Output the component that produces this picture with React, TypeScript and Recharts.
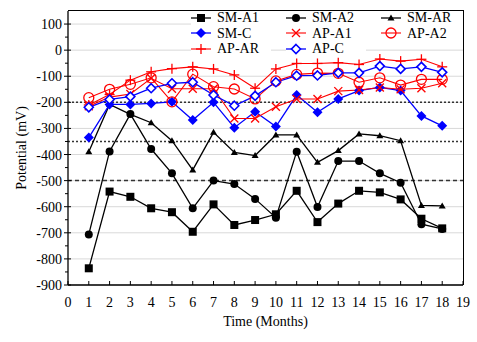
import React from "react";
import { LineChart, Line, XAxis, YAxis, CartesianGrid, ReferenceLine, Legend } from "recharts";

const months = [1, 2, 3, 4, 5, 6, 7, 8, 9, 10, 11, 12, 13, 14, 15, 16, 17, 18];
const smA1 = [-836, -542, -562, -606, -621, -696, -591, -670, -651, -629, -539, -659, -588, -539, -545, -572, -646, -683];
const smA2 = [-706, -388, -245, -379, -472, -606, -500, -513, -570, -642, -389, -601, -425, -425, -472, -508, -667, -685];
const smAR = [-389, -208, -246, -278, -347, -459, -315, -392, -404, -325, -325, -430, -385, -321, -328, -347, -595, -597];
const smC = [-335, -208, -208, -204, -198, -268, -200, -297, -236, -293, -172, -238, -187, -155, -143, -155, -252, -290];
const apA1 = [-215, -180, -168, -108, -148, -148, -148, -262, -262, -217, -187, -187, -157, -153, -143, -150, -146, -127];
const apA2 = [-182, -150, -131, -106, -198, -92, -140, -149, -187, -118, -93, -88, -89, -123, -106, -134, -112, -112];
const apAR = [-210, -170, -115, -83, -71, -64, -72, -95, -146, -72, -51, -51, -48, -55, -34, -42, -35, -64];
const apC = [-219, -189, -178, -146, -127, -123, -172, -213, -175, -123, -98, -97, -87, -87, -61, -72, -64, -85];

const xTicks = [0, 1, 2, 3, 4, 5, 6, 7, 8, 9, 10, 11, 12, 13, 14, 15, 16, 17, 18, 19];
const yMajor = [-900, -800, -700, -600, -500, -400, -300, -200, -100, 0, 100];
const yTicks = [-900, -850, -800, -750, -700, -650, -600, -550, -500, -450, -400, -350, -300, -250, -200, -150, -100, -50, 0, 50, 100];
const limits = [-200, -350, -500];
const xMax = 19;
const yMin = -900;
const yMax = 150;

const FONT = "'Liberation Serif', 'Times New Roman', serif";
const RED = "#ff0000";
const BLUE = "#0000ff";

type Shape = "square" | "circle" | "triangle" | "diamond" | "x" | "ring" | "plus" | "odiamond";

const series: { key: string; name: string; values: number[]; color: string; shape: Shape; width: number }[] = [
    { key: "smA1", name: "SM-A1", values: smA1, color: "#000", shape: "square", width: 1.3 },
    { key: "smA2", name: "SM-A2", values: smA2, color: "#000", shape: "circle", width: 1.3 },
    { key: "smAR", name: "SM-AR", values: smAR, color: "#000", shape: "triangle", width: 1.3 },
    { key: "smC", name: "SM-C", values: smC, color: BLUE, shape: "diamond", width: 1.3 },
    { key: "apA1", name: "AP-A1", values: apA1, color: RED, shape: "x", width: 1.1 },
    { key: "apA2", name: "AP-A2", values: apA2, color: RED, shape: "ring", width: 1.1 },
    { key: "apAR", name: "AP-AR", values: apAR, color: RED, shape: "plus", width: 1.1 },
    { key: "apC", name: "AP-C", values: apC, color: BLUE, shape: "odiamond", width: 1.3 },
];

const data = months.map((m, i) => {
    const row: Record<string, number> = { month: m };
    series.forEach(s => { row[s.key] = s.values[i]; });
    return row;
});

function Marker({ shape, cx, cy, color }: { shape: Shape; cx: number; cy: number; color: string }) {
    switch (shape) {
        case "square":
            return <rect x={cx - 4} y={cy - 4} width={8} height={8} fill={color} />;
        case "circle":
            return <circle cx={cx} cy={cy} r={4} fill={color} />;
        case "triangle":
            return <polygon points={`${cx},${cy - 3.5} ${cx - 3.5},${cy + 2.5} ${cx + 3.5},${cy + 2.5}`} fill={color} />;
        case "diamond":
            return <polygon points={`${cx},${cy - 5} ${cx + 5},${cy} ${cx},${cy + 5} ${cx - 5},${cy}`} fill={color} />;
        case "x":
            return (
                <g stroke={color} strokeWidth={1.3}>
                    <line x1={cx - 4} y1={cy - 4} x2={cx + 4} y2={cy + 4} />
                    <line x1={cx - 4} y1={cy + 4} x2={cx + 4} y2={cy - 4} />
                </g>
            );
        case "ring":
            return <circle cx={cx} cy={cy} r={5} fill="none" stroke={color} strokeWidth={1.3} />;
        case "plus":
            return (
                <g stroke={color} strokeWidth={1.3}>
                    <line x1={cx - 5} y1={cy} x2={cx + 5} y2={cy} />
                    <line x1={cx} y1={cy - 5} x2={cx} y2={cy + 5} />
                </g>
            );
        case "odiamond":
            return <polygon points={`${cx},${cy - 4.5} ${cx + 4.5},${cy} ${cx},${cy + 4.5} ${cx - 4.5},${cy}`} fill="#fff" stroke={color} strokeWidth={1.6} />;
    }
    return null;
}

const makeDot = (shape: Shape, color: string, key: string) => (props: any) => {
    const { cx, cy, index } = props;
    if (cx == null || cy == null) return <g key={`${key}-${index}`} />;
    return (
        <g key={`${key}-${index}`}>
            <Marker shape={shape} cx={cx} cy={cy} color={color} />
        </g>
    );
};

const XTick = (props: any) => {
    const { x, y, payload } = props;
    return (
        <g>
            <line x1={x} y1={y} x2={x} y2={y - 4} stroke="#000" strokeWidth={1} />
            <text x={x} y={y + 22} textAnchor="middle" fill="#000" style={{ fontFamily: FONT, fontSize: 14 }}>{payload.value}</text>
        </g>
    );
};

const YTick = (props: any) => {
    const { x, y, payload } = props;
    const major = yMajor.includes(payload.value);
    return (
        <g>
            <line x1={major ? x - 4 : x - 3} y1={y} x2={major ? x + 3 : x} y2={y} stroke="#000" strokeWidth={1} />
            {major && (
                <text x={x - 6} y={y + 5} textAnchor="end" fill="#000" style={{ fontFamily: FONT, fontSize: 14 }}>{payload.value}</text>
            )}
        </g>
    );
};

const LegendContent = () => (
    <div style={{ display: "grid", gridTemplateColumns: "95px 95px 82px", fontFamily: FONT, fontSize: 14, lineHeight: "15.5px", color: "#000" }}>
        {series.map((s, i) => (
            <div key={s.key} style={{ display: "flex", alignItems: "center", background: "#fff", height: 15.5, width: i >= 6 ? 80 : undefined }}>
                <svg width={21} height={14} style={{ flex: "none" }}>
                    <line x1={0} y1={7} x2={20} y2={7} stroke={s.color} strokeWidth={s.width} />
                    <Marker shape={s.shape} cx={10} cy={7} color={s.color} />
                </svg>
                <span style={{ marginLeft: 5, whiteSpace: "nowrap" }}>{s.name}</span>
            </div>
        ))}
    </div>
);

const YLabel = (props: any) => {
    const { viewBox } = props;
    const cx = 21;
    const cy = viewBox.y + viewBox.height / 2;
    return (
        <text x={cx} y={cy} transform={`rotate(-90 ${cx} ${cy})`} textAnchor="middle" dominantBaseline="central" fill="#000" style={{ fontFamily: FONT, fontSize: 14 }}>
            Potential (mV)
        </text>
    );
};

const XLabel = (props: any) => {
    const { viewBox } = props;
    const cx = viewBox.x + viewBox.width / 2;
    return (
        <text x={cx} y={326} textAnchor="middle" fill="#000" style={{ fontFamily: FONT, fontSize: 14 }}>
            Time (Months)
        </text>
    );
};

export default function App() {
    return (
        <div style={{ position: "absolute", left: 0, top: 0, width: 477, height: 342, background: "#fff" }}>
            <LineChart width={477} height={342} data={data} margin={{ top: 11, right: 14, bottom: 0, left: 0 }}>
                <CartesianGrid horizontal vertical={false} stroke="#d9d9d9" strokeWidth={1} horizontalValues={yMajor} />
                <XAxis
                    type="number"
                    dataKey="month"
                    domain={[0, xMax]}
                    ticks={xTicks}
                    interval={0}
                    height={57}
                    tickSize={0}
                    tickMargin={0}
                    tick={<XTick />}
                    tickLine={false}
                    axisLine={{ stroke: "#000", strokeWidth: 1.3 }}
                    label={<XLabel />}
                />
                <YAxis
                    type="number"
                    domain={[yMin, yMax]}
                    ticks={yTicks}
                    interval={0}
                    width={68}
                    tickSize={0}
                    tickMargin={0}
                    tick={<YTick />}
                    tickLine={false}
                    axisLine={{ stroke: "#000", strokeWidth: 1.3 }}
                    label={<YLabel />}
                />
                {limits.map(v => (
                    <ReferenceLine key={v} y={v} stroke="#333" strokeWidth={1.5} strokeDasharray={v === -500 ? "4 3" : "2 2"} />
                ))}
                <Legend verticalAlign="middle" align="center" layout="horizontal" content={<LegendContent />}
                    wrapperStyle={{ position: "absolute", top: 10, left: 191, width: 271, height: 48, background: "transparent" }} />
                {series.map(s => (
                    <Line
                        key={s.key}
                        dataKey={s.key}
                        name={s.name}
                        stroke={s.color}
                        strokeWidth={s.width}
                        dot={makeDot(s.shape, s.color, s.key)}
                        activeDot={false}
                        isAnimationActive={false}
                    />
                ))}
            </LineChart>
            {/* top and right frame of the plot area */}
            <div style={{ position: "absolute", left: 68, top: 10.35, width: 395.65, height: 274.65, borderTop: "1.3px solid #000", borderRight: "1.3px solid #000", boxSizing: "border-box", pointerEvents: "none" }} />
        </div>
    );
}
